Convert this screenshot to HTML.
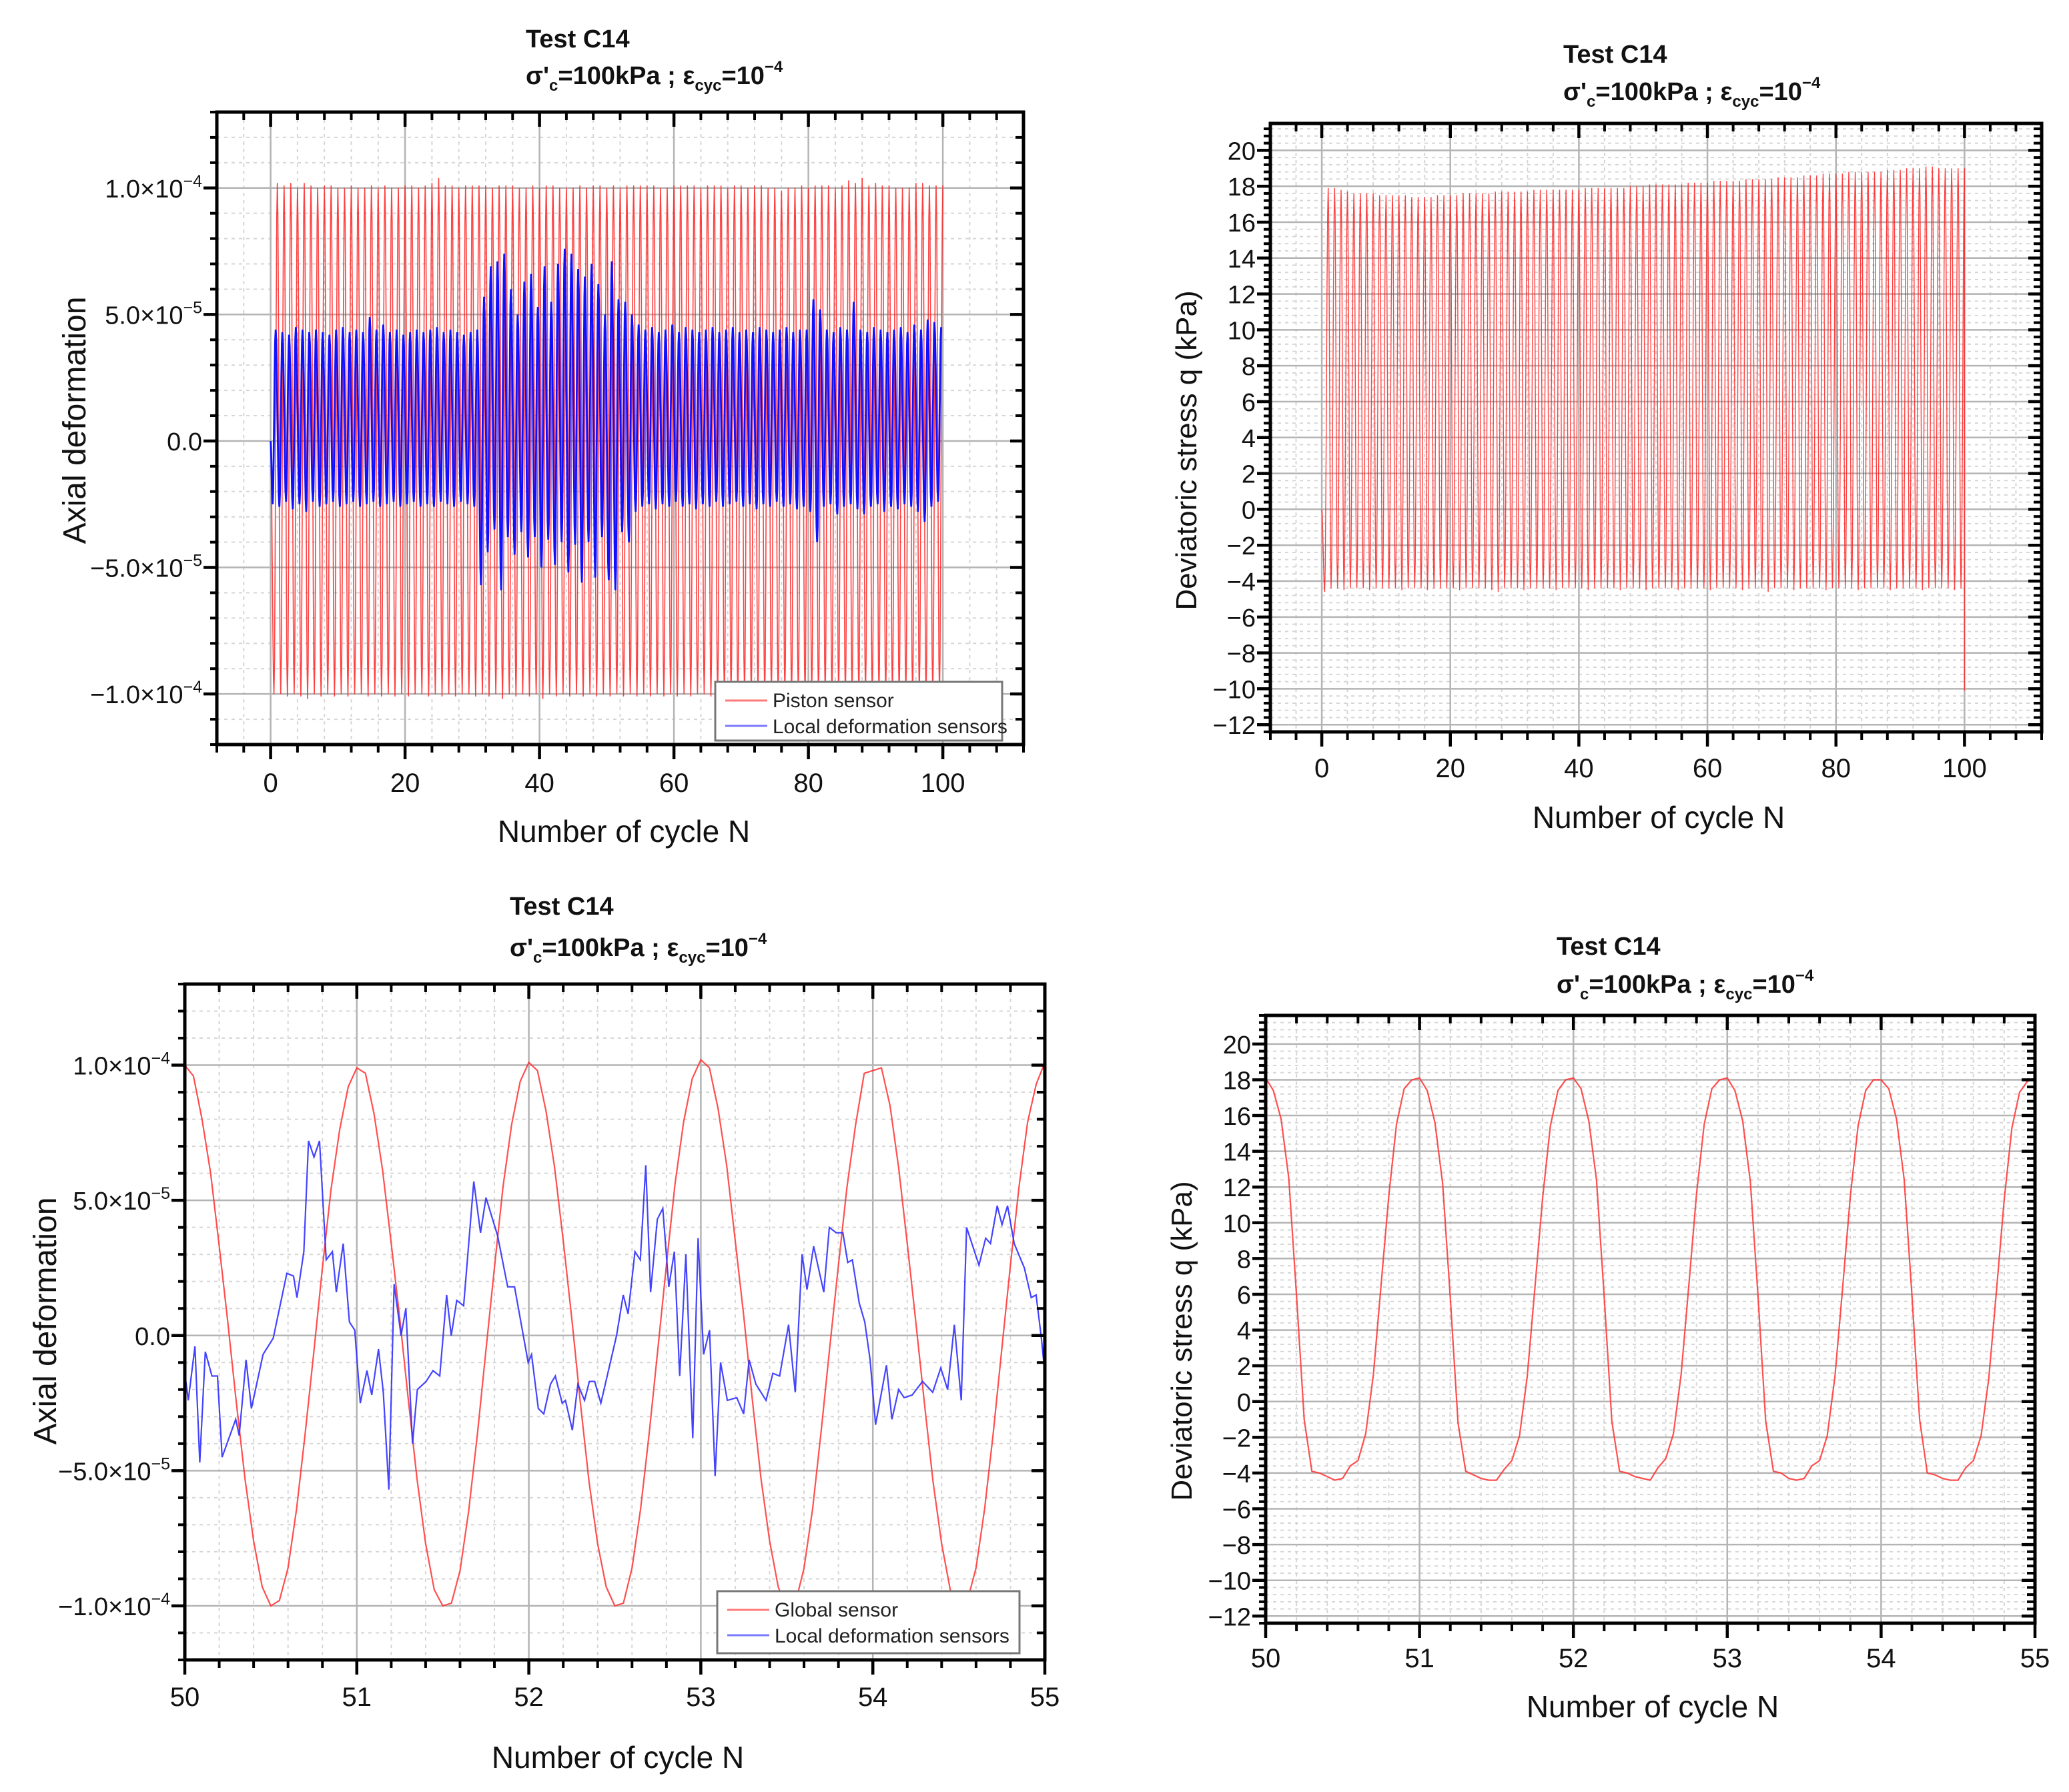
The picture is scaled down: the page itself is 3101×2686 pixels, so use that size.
<!DOCTYPE html>
<html><head><meta charset="utf-8"><style>
html,body{margin:0;padding:0;background:#fff;}
svg{display:block;font-family:"Liberation Sans",Arial,sans-serif;}
</style></head><body>
<svg id="fig" width="3101" height="2686" viewBox="0 0 3101 2686" xmlns="http://www.w3.org/2000/svg">
<rect width="3101" height="2686" fill="#fff"/>
</svg>
<script>
// ---------- DATA ----------
// Plot 1 (per-cycle peaks, units 1e-5)
const p1Cycles = 100;
const p1RedMax = [10.2,10.1,10.2,10.0,10.2,10.1,10.0,10.1,10.1,10.0,10.0,10.1,10.0,10.0,10.1,10.0,10.1,10.0,10.0,10.1,10.1,10.0,10.1,10.2,10.4,10.1,10.1,10.0,10.1,10.1,10.1,10.1,10.0,10.1,10.1,10.1,10.0,10.0,10.1,10.0,10.1,10.1,10.0,10.0,10.0,10.1,10.0,10.1,10.1,10.0,10.1,10.0,10.1,10.1,10.1,10.1,10.1,10.0,10.0,10.1,10.1,10.1,10.1,10.0,10.1,10.1,10.1,10.0,10.1,10.1,10.0,10.1,10.1,10.0,10.0,9.9,10.0,10.0,10.1,10.0,10.1,10.1,10.1,10.0,10.1,10.3,10.2,10.4,10.1,10.2,10.1,10.1,10.0,10.0,10.0,10.2,10.2,10.1,10.1,10.1];
const p1RedMin = [-10.0,-10.0,-10.1,-10.0,-10.1,-10.2,-10.0,-10.1,-10.0,-10.1,-10.0,-10.1,-10.0,-10.0,-10.1,-10.0,-10.1,-10.0,-10.1,-10.0,-10.1,-10.0,-10.0,-10.1,-10.0,-10.1,-10.0,-10.1,-10.0,-10.0,-10.1,-10.0,-10.1,-10.0,-10.2,-10.0,-10.1,-10.0,-10.1,-10.0,-10.2,-10.0,-10.1,-10.0,-10.1,-10.0,-10.1,-10.0,-10.1,-10.0,-10.1,-10.0,-10.1,-10.0,-10.1,-10.0,-10.1,-10.0,-10.1,-10.0,-10.1,-10.0,-10.1,-10.0,-10.0,-10.1,-10.0,-10.1,-10.0,-10.1,-10.0,-10.1,-10.0,-10.1,-10.0,-10.1,-10.0,-10.1,-10.0,-10.1,-10.0,-10.1,-10.0,-10.1,-10.0,-10.1,-10.0,-10.1,-10.0,-10.1,-10.0,-10.1,-10.0,-10.1,-10.0,-10.1,-10.0,-10.1,-10.0,-10.0];
const p1BlueMax = [4.4,4.3,4.2,4.5,4.4,4.3,4.4,4.3,4.2,4.4,4.5,4.3,4.4,4.3,4.9,4.4,4.6,4.3,4.4,4.2,4.3,4.4,4.3,4.4,4.5,4.3,4.4,4.3,4.2,4.3,4.4,5.7,6.9,7.1,7.4,6.0,5.0,6.3,6.6,5.3,6.9,5.5,7.0,7.6,7.4,6.8,6.5,7.0,6.2,5.0,7.1,5.6,5.5,5.0,4.6,4.4,4.5,4.3,4.4,4.6,4.3,4.5,4.4,4.3,4.4,4.5,4.3,4.4,4.5,4.3,4.4,4.3,4.5,4.4,4.3,4.4,4.5,4.3,4.4,4.4,5.6,5.2,4.4,4.3,4.5,4.4,5.5,4.4,4.3,4.5,4.4,4.3,4.4,4.5,4.3,4.6,4.4,4.8,4.7,4.5];
const p1BlueMin = [-2.5,-2.6,-2.4,-2.7,-2.5,-2.8,-2.4,-2.6,-2.5,-2.4,-2.6,-2.5,-2.4,-2.6,-2.5,-2.4,-2.6,-2.5,-2.4,-2.6,-2.5,-2.4,-2.6,-2.5,-2.6,-2.4,-2.5,-2.6,-2.4,-2.5,-2.6,-5.7,-4.4,-3.5,-5.9,-3.8,-4.5,-3.6,-4.6,-3.8,-5.0,-3.9,-4.9,-4.0,-5.2,-4.1,-5.6,-4.0,-5.4,-3.8,-5.5,-5.9,-3.6,-4.0,-2.8,-2.6,-2.5,-2.7,-2.5,-2.6,-2.4,-2.6,-2.5,-2.7,-2.5,-2.6,-2.4,-2.6,-2.5,-2.4,-2.6,-2.5,-2.7,-2.5,-2.6,-2.4,-2.6,-2.5,-2.7,-2.6,-2.8,-4.0,-2.6,-2.5,-2.9,-2.6,-2.5,-2.7,-2.9,-2.6,-2.5,-2.8,-2.6,-2.7,-2.5,-2.6,-2.8,-3.2,-2.6,-2.4];
// Plot 2 (per-cycle peaks, kPa)
const p2Max = [17.9,17.9,17.8,17.7,17.6,17.6,17.6,17.6,17.5,17.5,17.5,17.5,17.5,17.4,17.4,17.4,17.4,17.5,17.5,17.5,17.5,17.6,17.6,17.6,17.6,17.6,17.7,17.7,17.7,17.7,17.7,17.7,17.8,17.8,17.8,17.8,17.8,17.8,17.8,17.8,17.9,17.9,17.9,17.9,17.9,17.9,17.9,18.0,18.0,18.0,18.1,18.1,18.1,18.1,18.1,18.1,18.2,18.2,18.2,18.2,18.3,18.3,18.3,18.3,18.3,18.4,18.4,18.4,18.4,18.4,18.5,18.5,18.5,18.5,18.6,18.6,18.6,18.7,18.7,18.7,18.7,18.8,18.8,18.8,18.8,18.8,18.8,18.9,18.9,18.9,19.0,19.0,19.0,19.1,19.1,19.0,19.0,19.0,19.0,19.0];
const p2Min = [-4.6,-4.4,-4.4,-4.5,-4.4,-4.4,-4.4,-4.5,-4.4,-4.4,-4.4,-4.4,-4.5,-4.4,-4.4,-4.4,-4.5,-4.4,-4.4,-4.4,-4.4,-4.5,-4.4,-4.4,-4.4,-4.4,-4.5,-4.6,-4.4,-4.4,-4.4,-4.5,-4.4,-4.4,-4.4,-4.4,-4.5,-4.4,-4.4,-4.4,-4.4,-4.5,-4.4,-4.4,-4.4,-4.4,-4.5,-4.4,-4.4,-4.4,-4.5,-4.4,-4.4,-4.4,-4.4,-4.5,-4.4,-4.4,-4.4,-4.4,-4.5,-4.4,-4.4,-4.4,-4.4,-4.5,-4.4,-4.4,-4.4,-4.6,-4.4,-4.4,-4.4,-4.5,-4.4,-4.4,-4.4,-4.4,-4.5,-4.4,-4.4,-4.4,-4.4,-4.5,-4.4,-4.4,-4.4,-4.4,-4.5,-4.4,-4.4,-4.4,-4.4,-4.5,-4.4,-4.4,-4.4,-4.4,-4.5,-4.4];
const p2EndValue = -10.1;
// Plot 3 (units 1e-5), red sampled every 0.05 cycle from N=50
const p3RedStart = 50, p3RedStep = 0.05;
const p3Red = [10.0,9.6,8.0,6.0,3.3,0.5,-2.5,-5.3,-7.6,-9.3,-10.0,-9.8,-8.6,-6.4,-3.6,-0.6,2.5,5.4,7.6,9.2,
 9.9,9.7,8.2,6.1,3.4,0.6,-2.4,-5.3,-7.7,-9.4,-10.0,-9.9,-8.7,-6.5,-3.7,-0.6,2.5,5.5,7.8,9.4,
 10.1,9.8,8.3,6.2,3.5,0.6,-2.5,-5.4,-7.7,-9.3,-10.0,-9.9,-8.6,-6.4,-3.6,-0.5,2.6,5.6,7.9,9.5,
 10.2,9.9,8.4,6.3,3.5,0.7,-2.4,-5.3,-7.6,-9.3,-10.1,-9.9,-8.6,-6.4,-3.5,-0.4,2.6,5.5,7.8,9.7,
 9.8,9.9,8.5,6.2,3.4,0.5,-2.5,-5.4,-7.7,-9.4,-10.0,-9.8,-8.6,-6.4,-3.6,-0.5,2.6,5.5,7.9,9.3,10.1];
const p3BlueN = [50.000,50.020,50.059,50.087,50.119,50.158,50.190,50.217,50.296,50.316,50.356,50.387,50.455,50.514,50.593,50.632,50.652,50.692,50.719,50.751,50.783,50.822,50.858,50.881,50.921,50.957,50.988,51.020,51.059,51.087,51.126,51.154,51.186,51.217,51.257,51.285,51.324,51.352,51.403,51.443,51.482,51.522,51.549,51.581,51.621,51.680,51.719,51.751,51.818,51.877,51.917,51.996,52.016,52.055,52.087,52.126,52.154,52.194,52.213,52.253,52.285,52.324,52.352,52.383,52.419,52.510,52.549,52.577,52.617,52.648,52.680,52.708,52.747,52.779,52.814,52.846,52.877,52.913,52.953,52.984,53.016,53.051,53.083,53.115,53.154,53.209,53.249,53.281,53.320,53.379,53.419,53.458,53.510,53.549,53.589,53.617,53.656,53.715,53.747,53.787,53.826,53.854,53.881,53.921,53.953,53.984,54.016,54.079,54.111,54.150,54.182,54.229,54.289,54.348,54.395,54.435,54.474,54.514,54.545,54.617,54.656,54.684,54.723,54.751,54.783,54.822,54.881,54.921,54.949,54.980,55.000];
const p3BlueV = [-1.4,-2.4,-0.4,-4.7,-0.6,-1.5,-1.5,-4.5,-3.1,-3.7,-0.9,-2.7,-0.7,-0.1,2.3,2.2,1.4,3.1,7.2,6.6,7.2,2.8,3.1,1.6,3.4,0.5,0.2,-2.5,-1.3,-2.2,-0.5,-2.1,-5.7,1.9,0.0,1.0,-4.0,-2.0,-1.7,-1.3,-1.5,1.5,0.0,1.3,1.1,5.7,3.8,5.1,3.7,1.8,1.8,-1.0,-0.7,-2.7,-2.9,-1.8,-1.5,-2.5,-2.4,-3.5,-1.8,-2.4,-1.7,-1.7,-2.5,0.0,1.5,0.8,3.1,2.8,6.3,1.6,4.3,4.7,1.8,3.1,-1.5,3.0,-3.8,3.6,-0.7,0.2,-5.2,-1.0,-2.4,-2.3,-2.9,-0.9,-1.8,-2.4,-1.4,-1.5,0.4,-2.1,3.0,1.7,3.3,1.6,4.0,3.8,3.8,2.7,2.8,1.2,0.5,-0.9,-3.3,-1.1,-3.1,-2.0,-2.3,-2.2,-1.7,-2.1,-1.2,-2.0,0.4,-2.4,4.0,2.6,3.6,3.4,4.8,4.1,4.8,3.4,2.5,1.4,1.5,-0.1,-1.4];
// Plot 4 (kPa), sampled every 0.05 cycle from N=50
const p4Start = 50, p4Step = 0.05;
const p4Q = [18.1,17.4,15.8,12.5,6.0,-1.0,-3.9,-4.0,-4.2,-4.4,-4.3,-3.6,-3.3,-1.8,1.5,6.5,11.5,15.5,17.5,18.0,
 18.1,17.4,15.6,12.2,5.8,-1.2,-3.9,-4.1,-4.3,-4.4,-4.4,-3.8,-3.3,-1.9,1.4,6.4,11.4,15.4,17.4,18.0,
 18.1,17.5,15.7,12.4,5.9,-1.1,-3.9,-4.0,-4.2,-4.3,-4.4,-3.7,-3.2,-1.8,1.5,6.5,11.6,15.5,17.5,18.0,
 18.1,17.4,15.7,12.3,5.9,-1.1,-3.9,-4.0,-4.3,-4.4,-4.3,-3.6,-3.3,-1.9,1.4,6.4,11.5,15.4,17.4,18.0,
 18.0,17.5,15.8,12.4,6.0,-1.0,-4.0,-4.1,-4.3,-4.4,-4.4,-3.7,-3.3,-1.9,1.3,6.2,11.3,15.3,17.3,17.9,18.1];
// Tick labels
const p1XTicks = [0,20,40,60,80,100];
const p1YTicks = [-10,-5,0,5,10];
const p2YTicks = [-12,-10,-8,-6,-4,-2,0,2,4,6,8,10,12,14,16,18,20];
const p3XTicks = [50,51,52,53,54,55];

// ---------- DRAW ----------
const NS = "http://www.w3.org/2000/svg";
const svg = document.getElementById('fig');
function el(tag, attrs, parent) {
  const e = document.createElementNS(NS, tag);
  for (const k in attrs) e.setAttribute(k, attrs[k]);
  (parent || svg).appendChild(e);
  return e;
}
let clipId = 0;
function makeAxes(c) {
  const g = el('g', {});
  
  
  const sx = v => c.L + (v - c.x0) / (c.x1 - c.x0) * (c.R - c.L);
  const sy = v => c.B - (v - c.y0) / (c.y1 - c.y0) * (c.B - c.T);
  const eps = 1e-9;
  for (let v = Math.ceil(c.x0 / c.xMin) * c.xMin; v <= c.x1 + eps; v += c.xMin) {
    const x = sx(v);
    el('line', {x1:x, x2:x, y1:c.T, y2:c.B, stroke:'#d6d6d6', 'stroke-width':2, 'stroke-dasharray':'5,6'}, g);
  }
  for (let v = Math.ceil(c.y0 / c.yMin) * c.yMin; v <= c.y1 + eps; v += c.yMin) {
    const y = sy(v);
    el('line', {x1:c.L, x2:c.R, y1:y, y2:y, stroke:'#d6d6d6', 'stroke-width':2, 'stroke-dasharray':'5,6'}, g);
  }
  for (const v of c.xTicks) { const x = sx(v); el('line', {x1:x, x2:x, y1:c.T, y2:c.B, stroke:'#b4b4b4', 'stroke-width':2.5}, g); }
  for (const v of c.yTicks) { const y = sy(v); el('line', {x1:c.L, x2:c.R, y1:y, y2:y, stroke:'#b4b4b4', 'stroke-width':2.5}, g); }
  const cp = el('clipPath', {id:'cp' + (++clipId)}, g);
  el('rect', {x:c.L, y:c.T, width:c.R - c.L, height:c.B - c.T}, cp);
  const plot = el('g', {'clip-path':'url(#cp' + clipId + ')'}, g);
  return {g, sx, sy, plot, c};
}
function finishAxes(A, fmtY, fmtX) {
  const c = A.c, g = A.g, sx = A.sx, sy = A.sy, eps = 1e-9;
  el('rect', {x:c.L, y:c.T, width:c.R - c.L, height:c.B - c.T, fill:'none', stroke:'#000', 'stroke-width':5}, g);
  for (let v = Math.ceil(c.x0 / c.xMin) * c.xMin; v <= c.x1 + eps; v += c.xMin) {
    const x = sx(v);
    el('line', {x1:x, x2:x, y1:c.B, y2:c.B + 12, stroke:'#000', 'stroke-width':4}, g);
    el('line', {x1:x, x2:x, y1:c.T, y2:c.T + 12, stroke:'#000', 'stroke-width':4}, g);
  }
  for (let v = Math.ceil(c.y0 / c.yMin) * c.yMin; v <= c.y1 + eps; v += c.yMin) {
    const y = sy(v);
    el('line', {x1:c.L - 10, x2:c.L, y1:y, y2:y, stroke:'#000', 'stroke-width':4}, g);
    el('line', {x1:c.R - 12, x2:c.R, y1:y, y2:y, stroke:'#000', 'stroke-width':4}, g);
  }
  for (const v of c.xTicks) {
    const x = sx(v);
    el('line', {x1:x, x2:x, y1:c.B, y2:c.B + 22, stroke:'#000', 'stroke-width':4.5}, g);
    el('line', {x1:x, x2:x, y1:c.T, y2:c.T + 22, stroke:'#000', 'stroke-width':4.5}, g);
    const t = el('text', {x:x, y:c.xLabY, 'font-size':40, 'text-anchor':'middle', fill:'#111'}, g);
    t.textContent = fmtX(v);
    
    
  }
  for (const v of c.yTicks) {
    const y = sy(v);
    el('line', {x1:c.L - 20, x2:c.L, y1:y, y2:y, stroke:'#000', 'stroke-width':4.5}, g);
    el('line', {x1:c.R - 20, x2:c.R, y1:y, y2:y, stroke:'#000', 'stroke-width':4.5}, g);
    fmtY(v, c.L - 22, y + 14, g);
  }
  const xt = el('text', {x:c.xtX, y:c.xtY, 'font-size':46, 'text-anchor':'middle', fill:'#111'}, g);
  xt.textContent = 'Number of cycle N';
  
  
  const yt = el('text', {x:0, y:0, 'font-size':c.ytSize, 'text-anchor':'middle', fill:'#111', transform:'translate(' + c.ytX + ',' + c.ytY + ') rotate(-90)'}, g);
  yt.textContent = c.ytText;
  
  
  const t1 = el('text', {x:c.tX, y:c.tY1, 'font-size':38, 'font-weight':'bold', fill:'#111'}, g);
  t1.textContent = 'Test C14';
  
  
  const t2 = el('text', {x:c.tX, y:c.tY2, 'font-size':38, 'font-weight':'bold', fill:'#111'}, g);
  
  
  t2.innerHTML = 'σ\'<tspan font-size="24" dy="10">c</tspan><tspan dy="-10">=100kPa ; ε</tspan><tspan font-size="24" dy="10">cyc</tspan><tspan dy="-10">=10</tspan><tspan font-size="24" dy="-18">−4</tspan>';
}
function sciY(v, x, y, g) {
  const t = el('text', {x:x, y:y, 'font-size':38, 'text-anchor':'end', fill:'#111'}, g);
  
  
  if (v === 0) { t.textContent = '0.0'; return; }
  const neg = v < 0, a = Math.abs(v);
  let mant, ex;
  if (a >= 10) { mant = (a / 10).toFixed(1); ex = '−4'; } else { mant = a.toFixed(1); ex = '−5'; }
  t.innerHTML = (neg ? '−' : '') + mant + '×10<tspan font-size="25" dy="-16">' + ex + '</tspan>';
}
function plainY(v, x, y, g) {
  const t = el('text', {x:x, y:y, 'font-size':38, 'text-anchor':'end', fill:'#111'}, g);
  
  
  t.textContent = v < 0 ? '−' + Math.abs(v) : String(v);
}
function pathD(pts, A) { return pts.map((p, i) => (i ? 'L' : 'M') + A.sx(p[0]).toFixed(1) + ',' + A.sy(p[1]).toFixed(1)).join(''); }
function cyclePts(maxArr, minArr, tTrough, tPeak, startVal) {
  const pts = [[0, startVal]];
  let prev = startVal, prevT = 0;
  for (let i = 0; i < maxArr.length; i++) {
    const segs = [[i + tTrough, minArr[i]], [i + tPeak, maxArr[i]]];
    for (const s of segs) {
      for (let k = 1; k <= 6; k++) {
        const f = k / 6, w = (1 - Math.cos(Math.PI * f)) / 2;
        pts.push([prevT + (s[0] - prevT) * f, prev + (s[1] - prev) * w]);
      }
      prev = s[1]; prevT = s[0];
    }
  }
  return pts;
}
function legend(A, x, y, w, h, label1, label2) {
  const g = el('g', {}, A.g);
  
  
  el('rect', {x:x, y:y, width:w, height:h, fill:'#fff', stroke:'#777', 'stroke-width':3}, g);
  el('line', {x1:x + 15, x2:x + 78, y1:y + 28, y2:y + 28, stroke:'#ff7a7a', 'stroke-width':3}, g);
  el('line', {x1:x + 15, x2:x + 78, y1:y + 66, y2:y + 66, stroke:'#7a7aff', 'stroke-width':3}, g);
  const a = el('text', {x:x + 86, y:y + 38, 'font-size':30, fill:'#222'}, g);
  a.textContent = label1;
  
  
  const b = el('text', {x:x + 86, y:y + 77, 'font-size':30, fill:'#222'}, g);
  b.textContent = label2;
  
  
}

// ---- Plot 1 ----
const A1 = makeAxes({name:'axial-deformation-full-chart', L:325, R:1534, T:168, B:1116, x0:-8, x1:112, y0:-12, y1:13, xMin:4, yMin:1, xTicks:p1XTicks, yTicks:p1YTicks, xLabY:1187, xtX:935, xtY:1262, ytX:128, ytY:630, ytSize:48, ytText:'Axial deformation', tX:788, tY1:71, tY2:126});
{
  const red = el('path', {d:pathD(cyclePts(p1RedMax, p1RedMin, 0.5, 1.0, 0), A1), fill:'none', stroke:'#ff2020', 'stroke-width':1.6, 'stroke-opacity':0.85}, A1.plot);
  
  
  const blue = el('path', {d:pathD(cyclePts(p1BlueMax, p1BlueMin, 0.3, 0.75, 0), A1), fill:'none', stroke:'#1010ff', 'stroke-width':2.8}, A1.plot);
  
  
}
finishAxes(A1, sciY, v => String(v));
legend(A1, 1072, 1022, 430, 88, 'Piston sensor', 'Local deformation sensors');

// ---- Plot 2 ----
const A2 = makeAxes({name:'deviatoric-stress-full-chart', L:1904, R:3060, T:185, B:1097, x0:-8, x1:112, y0:-12.4, y1:21.5, xMin:4, yMin:0.4, xTicks:p1XTicks, yTicks:p2YTicks, xLabY:1165, xtX:2486, xtY:1241, ytX:1793, ytY:675, ytSize:44, ytText:'Deviatoric stress q (kPa)', tX:2343, tY1:94, tY2:150});
{
  const pts = cyclePts(p2Max, p2Min, 0.45, 1.0, 0);
  pts.push([100, p2EndValue]);
  const red = el('path', {d:pathD(pts, A2), fill:'none', stroke:'#ff2020', 'stroke-width':1.4, 'stroke-opacity':0.85}, A2.plot);
  
  
}
finishAxes(A2, plainY, v => String(v));

// ---- Plot 3 ----
const A3 = makeAxes({name:'axial-deformation-zoom-chart', L:277, R:1566, T:1475, B:2488, x0:50, x1:55, y0:-12, y1:13, xMin:0.2, yMin:1, xTicks:p3XTicks, yTicks:p1YTicks, xLabY:2557, xtX:926, xtY:2650, ytX:84, ytY:1980, ytSize:48, ytText:'Axial deformation', tX:764, tY1:1371, tY2:1433});
{
  const rp = p3Red.map((v, i) => [p3RedStart + i * p3RedStep, v]);
  const red = el('path', {d:pathD(rp, A3), fill:'none', stroke:'#ff3030', 'stroke-width':2.2, 'stroke-opacity':0.85}, A3.plot);
  
  
  const bp = p3BlueN.map((n, i) => [n, p3BlueV[i]]);
  const blue = el('path', {d:pathD(bp, A3), fill:'none', stroke:'#3030ff', 'stroke-width':2.2, 'stroke-opacity':0.9}, A3.plot);
  
  
}
finishAxes(A3, sciY, v => String(v));
legend(A3, 1075, 2385, 453, 93, 'Global sensor', 'Local deformation sensors');

// ---- Plot 4 ----
const A4 = makeAxes({name:'deviatoric-stress-zoom-chart', L:1897, R:3050, T:1522, B:2433, x0:50, x1:55, y0:-12.4, y1:21.6, xMin:0.2, yMin:0.4, xTicks:p3XTicks, yTicks:p2YTicks, xLabY:2499, xtX:2477, xtY:2574, ytX:1786, ytY:2010, ytSize:44, ytText:'Deviatoric stress q (kPa)', tX:2333, tY1:1431, tY2:1488});
{
  const qp = p4Q.map((v, i) => [p4Start + i * p4Step, v]);
  const red = el('path', {d:pathD(qp, A4), fill:'none', stroke:'#ff3030', 'stroke-width':2.2, 'stroke-opacity':0.85}, A4.plot);
  
  
}
finishAxes(A4, plainY, v => String(v));
</script>
</body></html>
